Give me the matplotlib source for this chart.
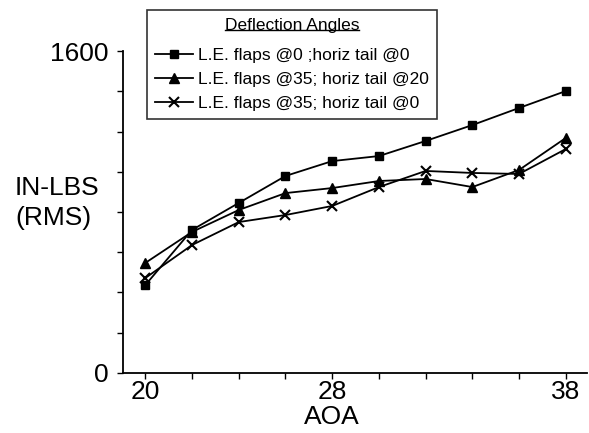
import matplotlib
matplotlib.use("Agg")
import matplotlib.pyplot as plt
from matplotlib.lines import Line2D
from matplotlib.ticker import MultipleLocator, FixedLocator

plt.rcParams['font.family'] = ['Liberation Sans', 'DejaVu Sans']

aoa = [20, 22, 24, 26, 28, 30, 32, 34, 36, 38]
flaps0_tail0 = [437, 711, 845, 979, 1053, 1078, 1153, 1232, 1317, 1401]
flaps35_tail20 = [547, 701, 810, 894, 919, 954, 964, 924, 1009, 1168]
flaps35_tail0 = [472, 636, 750, 785, 830, 924, 1004, 994, 989, 1113]
labels = ["L.E. flaps @0 ;horiz tail @0",
          "L.E. flaps @35; horiz tail @20",
          "L.E. flaps @35; horiz tail @0"]
x_ticklabels = [20, 28, 38]
y_ticklabels = [0, 1600]

BIG = 19

fig = plt.figure(figsize=(5.89, 4.33), dpi=100)
ax = fig.add_axes([0.2083, 0.1386, 0.788, 0.7436])

lw = 1.3
ax.plot(aoa, flaps0_tail0, color='black', lw=lw, marker='s', ms=5.5, label=labels[0])
ax.plot(aoa, flaps35_tail20, color='black', lw=lw, marker='^', ms=6.5, label=labels[1])
ax.plot(aoa, flaps35_tail0, color='black', lw=lw, marker='x', ms=7, mew=1.5, label=labels[2])

ax.set_xlim(19.03, 38.9)
ax.set_ylim(0, 1600)
ax.spines['top'].set_visible(False)
ax.spines['right'].set_visible(False)
for s in ('left', 'bottom'):
    ax.spines[s].set_linewidth(1.3)

ax.xaxis.set_major_locator(FixedLocator(x_ticklabels))
ax.xaxis.set_minor_locator(MultipleLocator(2))
ax.yaxis.set_major_locator(FixedLocator(y_ticklabels))
ax.yaxis.set_minor_locator(MultipleLocator(200))
ax.tick_params(axis='both', which='both', direction='out', length=4, width=1, labelsize=BIG)
ax.tick_params(axis='x', pad=1)
ax.tick_params(axis='y', pad=6)

ax.set_xlabel("AOA", fontsize=BIG, va='center')
ax.xaxis.set_label_coords(28, -0.137, transform=ax.get_xaxis_transform())
fig.text(15/589, 1 - 203/433, "IN-LBS\n(RMS)", fontsize=BIG, ha='left', va='center', linespacing=1.3)

leg = fig.legend(loc='upper left', bbox_to_anchor=(147/589, 1 - 10/433),
                 title="Deflection Angles", fontsize=12.5, title_fontsize=12.5,
                 frameon=True, fancybox=False, edgecolor='black',
                 handlelength=2.2, handletextpad=0.3, borderpad=0.45,
                 labelspacing=0.5, borderaxespad=0)
leg.get_frame().set_linewidth(1.2)
leg._legend_box.sep = 11

fig.canvas.draw()
r = fig.canvas.get_renderer()
tb = leg.get_title().get_window_extent(r)
inv = fig.transFigure.inverted()
(x0, y0), (x1, y1) = inv.transform([(tb.x0, tb.y0), (tb.x1, tb.y0)])
fig.add_artist(Line2D([x0, x1], [y0 + 0.006, y0 + 0.006], color='black', lw=1,
                      transform=fig.transFigure, zorder=20))

fig.savefig("out.png", dpi=100)
